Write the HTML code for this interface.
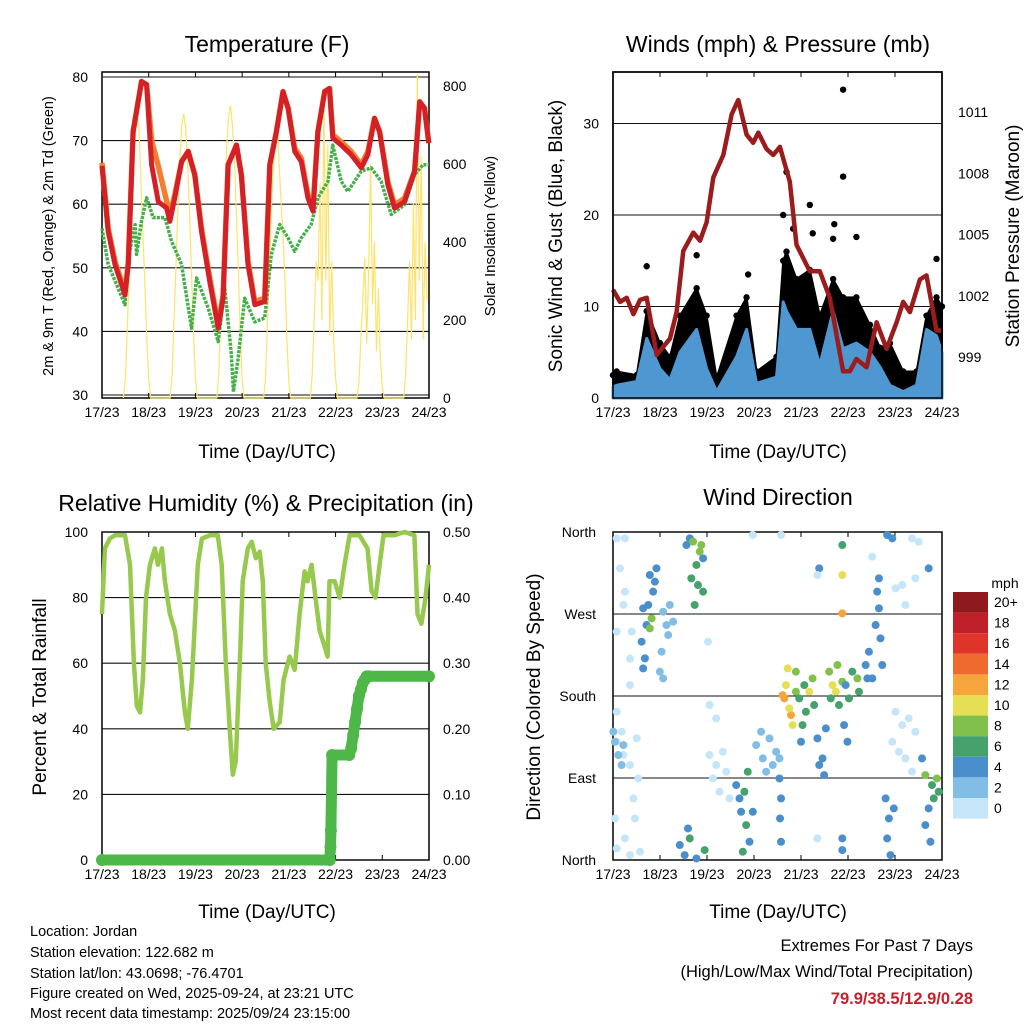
<!DOCTYPE html>
<html><head><meta charset="utf-8"><style>
body{margin:0;background:#fff}
svg{display:block;font-family:"Liberation Sans",sans-serif}
</style></head><body>
<svg id="c" width="1024" height="1024" viewBox="0 0 1024 1024" xmlns="http://www.w3.org/2000/svg">
<rect width="1024" height="1024" fill="#fff"/>
<g font-size="23" text-anchor="middle" fill="#000">
<text x="267" y="52">Temperature (F)</text>
<text x="778" y="52">Winds (mph) &amp; Pressure (mb)</text>
<text x="266" y="511">Relative Humidity (%) &amp; Precipitation (in)</text>
<text x="778" y="505">Wind Direction</text>
</g>
<g font-size="19" text-anchor="middle">
<text x="267" y="458">Time (Day/UTC)</text>
<text x="778" y="458">Time (Day/UTC)</text>
<text x="267" y="918">Time (Day/UTC)</text>
<text x="778" y="918">Time (Day/UTC)</text>
<text transform="translate(53,236) rotate(-90)" font-size="14.5">2m &amp; 9m T (Red, Orange) &amp; 2m Td (Green)</text>
<text transform="translate(495,236) rotate(-90)" font-size="15">Solar Insolation (Yellow)</text>
<text transform="translate(562,236) rotate(-90)">Sonic Wind &amp; Gust (Blue, Black)</text>
<text transform="translate(1019,236) rotate(-90)">Station Pressure (Maroon)</text>
<text transform="translate(46,697) rotate(-90)">Percent &amp; Total Rainfall</text>
<text transform="translate(540,697) rotate(-90)">Direction (Colored By Speed)</text>
</g>
<g font-size="14.5">
<text x="30" y="936">Location: Jordan</text>
<text x="30" y="957">Station elevation: 122.682 m</text>
<text x="30" y="978">Station lat/lon: 43.0698; -76.4701</text>
<text x="30" y="998">Figure created on Wed, 2025-09-24, at 23:21 UTC</text>
<text x="30" y="1018">Most recent data timestamp: 2025/09/24 23:15:00</text>
</g>
<g font-size="16.5" text-anchor="end">
<text x="973" y="951">Extremes For Past 7 Days</text>
<text x="973" y="977">(High/Low/Max Wind/Total Precipitation)</text>
<text x="973" y="1004" font-weight="bold" fill="#c8202a">79.9/38.5/12.9/0.28</text>
</g>
<g id="plots"></g>
</svg>
<script>
// ---------- DATA ----------
const dayLabels = ["17/23","18/23","19/23","20/23","21/23","22/23","23/23","24/23"];
const tempTicks = [30,40,50,60,70,80];
const solarTicks = [0,200,400,600,800];
const windTicks = [0,10,20,30];
const pressTicks = [999,1002,1005,1008,1011];
const rhTicks = [0,20,40,60,80,100];
const rainTicks = ["0.00","0.10","0.20","0.30","0.40","0.50"];
const dirNames = ["North","East","South","West","North"];
const speedLabels = ["20+","18","16","14","12","10","8","6","4","2","0"];

const tempHours = [0,3.2,6.7,11.8,13.5,16,20.3,22.9,25.5,28.9,33.2,34.9,37.4,40.9,44.3,47.7,51.1,55.4,59.7,62.2,64.8,69.1,71.6,75,78.5,83.6,86.2,89.6,93,95.6,99,102.4,105.8,108.4,110.9,114.4,116.9,118.6,122.9,128,133.2,136.6,140,142.6,146.9,150.3,155.4,160.6,163.2,165.7,167.9];
const tempRed = [66,55.7,50.5,45.7,50.5,71.4,79.3,78.8,66.2,60.4,59.4,57.3,61,66.7,68.3,64.6,55.7,47.8,40.5,45.2,66.2,69.3,64.6,50.5,44.2,44.7,66.2,71.4,77.7,75.1,68.3,66.7,61,58.9,71.4,77.7,78.2,70.4,69.3,67.8,65.7,67.8,73.5,71.4,63,59.4,60.4,65.2,76.1,75.1,69.6];
const tempOrange = [66.5,56.2,51,46.2,51,71.4,79.3,78.8,70,66,60.5,58.4,61.5,66.7,68.3,64.6,56.2,48.3,41,45.7,66.2,69.3,64.6,51,44.7,45.2,66.2,71.4,77.7,75.1,68.8,67.2,61.5,59.4,71.4,77.7,78.2,70.9,69.8,68.3,66.2,68.3,73.5,71.4,63.5,59.9,60.9,65.2,76.1,75.1,69.6];
const dewHours = [0,3.2,11.8,13.5,17,17.8,20.3,22.9,26.3,32.3,35.7,40.9,46,48.6,54.5,59.7,63.1,66.5,67.5,69.9,73.3,78.5,83.6,87,91.3,95.6,99,102.4,107.5,110.9,116.1,118.6,122.9,126.3,133.2,138.3,143.4,148.6,155.4,160.6,164.8,167.9];
const dewTemps = [56.2,50.5,44.2,51.6,56.8,52.1,57.3,61,57.9,57.9,54.2,50.5,40.5,48.4,43.7,38.4,46.8,36.3,30.5,35.7,45.2,41.5,42.1,52.1,56.8,54.7,52.6,54.7,56.8,61,63.6,69.3,63.6,62,65.2,65.7,63.6,58.4,59.9,64.6,66.2,66.2];
const solarHours = [11,12,13,14,15,16,17,18,19,20,21,22,23,24,25, 35,36,37,38,39,40,41,42,43,44,45,46,47,48,49, 59,60,61,62,63,64,65,66,67,68,69,70,71,72,73, 83,84,85,86,87,88,89,90,91,92,93,94,95,96,97, 107,108,109,110,111,112,113,114,115,116,117,118,119,120,121, 131,132,133,134,135,136,137,138,139,140,141,142,143,144,145, 155,156,157,158,159,160,161,162,163,164,165,166,167];
const solarValues = [0,50,180,330,480,600,690,720,690,560,420,300,150,50,0, 0,60,200,340,490,610,700,730,690,600,470,320,170,50,0, 0,60,210,360,500,640,720,750,700,620,480,330,170,50,0, 0,50,190,340,480,600,650,720,600,500,420,300,150,40,0, 0,60,200,350,300,550,200,760,300,650,160,350,150,50,0, 0,40,150,250,360,140,330,600,240,400,120,280,100,30,0, 0,60,200,350,150,500,200,830,300,620,150,400,250];

const windHours = [0,1.9,12.1,17.2,24,29.1,34.2,42.7,47.8,52.9,63.1,68.2,73.3,83.5,86.9,88.6,93.7,100.5,105.6,112.4,117.5,124.3,131.2,136.3,141.4,148.2,155,160.1,165.2,168];
const windSpeed = [1.2,1.4,1.8,6.5,3.2,2,5,7.5,3.2,0.7,4.5,7.5,1.6,2.3,10.5,9.5,7.5,7.5,3.6,9.5,5.4,6,5,3.4,1.4,0.7,1.4,7.5,6.8,5];
const windGust = [2.5,2.9,2.5,9.5,6,4.5,9,12,9,2.2,9,11,2.9,4.5,15,16,13,14,9,13,11,11,8,5.5,6,2.9,2.9,9,11,10];
const gustPeakHours = [17.2,42.7,69,86.9,88.6,92,100.5,102,112.4,113,117.5,117.5,124.3,165.2];
const gustPeakValues = [14.4,15.6,13.5,20,24.7,18.5,21.1,18,17.4,19,33.7,24.2,17.6,15.2];
const pressHours = [0,3.6,7,10.4,13.8,17.2,22.3,29.1,32.5,35.9,41,44.4,47.8,51.2,56.3,60.6,64,68.2,71.6,74.2,78.4,81.8,85.2,90.3,93.7,100.5,105.6,110.7,117.5,120.9,124.3,129.5,134.6,139.7,144.8,148.2,151.6,156.7,160.1,165.2,167.7];
const pressValues = [1002.3,1001.7,1001.9,1001.1,1001.8,1001.9,999.1,999.9,1001.2,1004.2,1005.1,1004.7,1005.6,1007.8,1008.9,1010.9,1011.6,1009.9,1009.5,1010,1009.2,1008.9,1009.3,1007.6,1004.5,1003.2,1003.2,1001.9,998.3,998.3,998.9,998.5,1000.7,999.4,1000.7,1001.7,1001.2,1002.8,1003,1000.3,1000.3];

const rhHours = [0,1.5,4,6.7,11.8,14.4,16.4,17.9,19.5,21,22.6,24.6,27.2,28.7,30.8,32.3,34.9,37.4,40,42.6,44.1,46.2,49.2,51.3,55.4,59.5,61.5,63.6,65.6,67.2,68.7,70.8,72.3,74.9,76.9,79,81,82.6,84.1,86.2,88.2,91.3,93.3,96.4,99,101.5,104.1,105.6,107.7,109.7,111.8,114.4,115.9,116.9,119.5,122.1,124.6,127.2,132.3,136.4,138.5,140.5,142.6,144.6,150.3,155.4,160.5,162.1,164.1,166.2,168];
const rhValues = [75,95,98,99,99,90,60,47,45,55,80,90,95,90,95,85,75,70,60,45,40,55,90,98,99,99,90,60,40,26,30,60,85,95,97,92,94,85,60,48,40,42,55,62,58,75,88,85,90,80,70,65,62,85,85,80,90,99,99,95,82,80,90,99,99,100,99,75,72,80,90];
const rainHours = [0,117,117.4,117.6,118.2,127,128,129,130,131,132,133,134,135,136,137,168];
const rainValues = [0,0,0.02,0.045,0.16,0.16,0.17,0.19,0.21,0.23,0.25,0.26,0.27,0.275,0.28,0.28,0.28];

const dirHours = [1.9,6.1,3.6,6.1,5.3,1.9,9.5,8.7,8.7,1.9,4.4,1.9,5.3,8.7,12.1,12.9,10.4,1,11.2,6.1,1.9,8.7,13.8,
 1,2.7,4.4,5.3,0.2,25.6,27.3,29,24.8,28.2,30.7,23.9,25.6,
 15.4,17.1,14.6,16.3,15.4,18.8,20.5,18,21.4,22.2,39.2,46,37.5,34.1,36.6,38.3,42.6,
 19.7,18.8,40.9,44.3,45.1,42.6,40,46,41.7,43.4,39.2,46.8,
 49.3,52.7,56.1,51,54.4,57.8,59.5,49.3,52.7,48.5,73.1,76.5,79.9,83.3,78.2,81.6,85,75.6,
 62.9,64.6,65.4,69.7,71.4,85,85.8,85.3,85.8,67.1,68,66.3,68.8,
 86.6,87.5,90.9,117.1,88.3,90,91.7,89.2,100.2,112.1,113.8,117.1,93.4,93.4,101.9,110.4,114.6,117.1,124.8,
 95.1,96.8,98.5,97.7,102.7,115.4,111.2,117.1,120.5,125.6,122.2,
 96,104.4,107,107.8,105.3,108.7,118.8,118,119.7,105.3,129,130.7,132.4,134.1,135.8,134.9,136.6,137.5,129.9,135.8,139.2,140.9,140,141.7,143.4,140,142.6,157.8,161.2,159.5,162.1,161.2,117.1,117.1,
 159.5,162.9,165.4,163.8,166.3,
 144.3,147.7,151,154.4,146,149.3,152.7,142.6,71.4,85.8,104.4,104.4,132.4,144.3,147.7,154.4,156.1,152.7,149.3];
const dirDegrees = [353,353,320,294.5,280,250.6,250.6,221,192,162.7,140.8,129.8,115.2,104.2,133.5,89.5,67.6,45.6,45.6,23.7,12.7,5.4,9.1,
 129.8,115.2,104.2,126.1,140.8,272.5,257.9,279.9,228.6,246.9,261.6,206.7,199.3,
 276.2,257.9,239.6,221.3,210.3,312.8,294.5,279.9,305.5,320.1,353,331.1,345.7,16.4,5.4,34.6,1.7,
 265.2,254.2,349.4,338.4,345.7,323.8,309.1,294.5,279.9,301.8,23.7,10.9,
 115.2,104.2,118.8,89.5,74.9,96.9,67.6,170.1,155.4,239.6,126.1,111.5,133.5,118.8,96.9,104.2,111.5,140.8,
 82.2,67.6,52.9,20,52.9,89.5,67.6,45.6,20,74.9,38.3,9.1,96.9,
 181,177.4,159.1,270.7,192,166.4,148.1,210.3,184.7,192,184.7,312.8,206.7,184.7,199.3,206.7,214,195.7,199.3,
 177.4,148.1,162.7,192,170.1,170.1,177.4,345.7,177.4,184.7,206.7,
 129.8,133.5,111.5,93.2,104.2,144.4,192,148.1,129.8,320.1,214,228.6,199.3,257.9,276.2,294.5,243.3,214,199.3,309.1,67.6,45.6,23.7,5.4,56.6,356.7,353,111.5,56.6,38.3,20,320.1,23.7,10.9,
 93.2,82.2,89.5,67.6,74.9,
 162.7,148.1,155.4,140.8,118.8,111.5,96.9,129.8,356.7,356.7,312.8,23.7,332.9,298.2,301.8,309.1,349.4,353,279.9];
const dirSpeeds = [0.5,0.5,0.5,0.5,0.5,0.5,0.5,0.5,0.5,0.5,0.5,0.5,0.5,0.5,0.5,0.5,0.5,0.5,0.5,0.5,0.5,0.5,0.5,
 2.5,2.5,2.5,2.5,2.5,2.5,2.5,2.5,2.5,2.5,2.5,2.5,2.5,
 4.5,4.5,4.5,4.5,4.5,4.5,4.5,4.5,4.5,4.5,4.5,4.5,4.5,4.5,4.5,4.5,4.5,
 8.5,8.5,8.5,8.5,8.5,6.5,6.5,6.5,6.5,6.5,6.5,6.5,
 0.5,0.5,0.5,0.5,0.5,0.5,0.5,0.5,0.5,0.5,2.5,2.5,2.5,2.5,2.5,2.5,2.5,2.5,
 4.5,4.5,4.5,4.5,4.5,4.5,4.5,4.5,4.5,6.5,6.5,6.5,6.5,
 12.5,12.5,12.5,12.5,10.5,10.5,10.5,10.5,10.5,10.5,10.5,10.5,8.5,8.5,8.5,8.5,8.5,8.5,8.5,
 6.5,6.5,6.5,6.5,6.5,6.5,6.5,6.5,6.5,6.5,6.5,
 4.5,4.5,4.5,4.5,4.5,4.5,4.5,4.5,4.5,4.5,4.5,4.5,4.5,4.5,4.5,4.5,4.5,4.5,4.5,4.5,4.5,4.5,4.5,4.5,4.5,4.5,4.5,4.5,4.5,4.5,4.5,4.5,4.5,4.5,
 8.5,6.5,8.5,6.5,6.5,
 0.5,0.5,0.5,0.5,0.5,0.5,0.5,0.5,0.5,0.5,0.5,0.5,0.5,0.5,0.5,0.5,0.5,0.5,0.5];

const speedColors = ["#c4e6f8","#82bde6","#4a8fcb","#45a26c","#80c04b","#e6df55","#f6a53d","#ee6a2e","#de3429","#c0202a","#8e1a1d"];

// ---------- SCALES ----------
const TX = t => 102 + t * 327 / 168;
const TY = v => 395 - (v - 30) * 6.36;
const SY = v => 398 - v * 0.39;
const WX = t => 613 + t * 329 / 168;
const WY = v => 398 - v * 9.15;
const PY = p => 357 - (p - 999) * 20.4;
const RY = v => 860 - v * 3.28;
const PRY = v => 860 - v * 656;
const DY = d => 860 - d * 328 / 360;

const NS = "http://www.w3.org/2000/svg";
const root = document.getElementById("plots");
function mk(tag, attrs, parent) {
  const e = document.createElementNS(NS, tag);
  for (const k in attrs) e.setAttribute(k, attrs[k]);
  (parent || root).appendChild(e);
  return e;
}
function pts(xs, ys, fx, fy) { return xs.map((x, i) => fx(x).toFixed(1) + "," + fy(ys[i]).toFixed(1)).join(" "); }

function frame(x0, y0, x1, y1, name, fx) {
  const g = mk("g", {});
  
  
  const r = mk("rect", {x: x0, y: y0, width: x1 - x0, height: y1 - y0, fill: "none", stroke: "#000", "stroke-width": 1.5}, g);
  
  
  dayLabels.forEach((lab, i) => {
    const x = fx(i * 24);
    mk("line", {x1: x, x2: x, y1: y1, y2: y1 - 5, stroke: "#000"}, g);
    mk("line", {x1: x, x2: x, y1: y0, y2: y0 + 5, stroke: "#000"}, g);
    const t = mk("text", {x: x, y: y1 + 19, "font-size": 14, "text-anchor": "middle"}, g);
    t.textContent = lab;
    
    
  });
  return g;
}
function grid(g, x0, x1, y, name) {
  const l = mk("line", {x1: x0, x2: x1, y1: y, y2: y, stroke: "#111", "stroke-width": 1.1}, g);
  
  
}
function tickLabel(g, x, y, txt, anchor, name) {
  const t = mk("text", {x: x, y: y + 5, "font-size": 14, "text-anchor": anchor}, g);
  t.textContent = txt;
  
  
}

// ---------- TEMPERATURE ----------
const g1 = frame(102, 72, 429, 398, "temperature-panel", TX);
tempTicks.forEach(v => { grid(g1, 102, 429, TY(v), "temp"); tickLabel(g1, 88, TY(v), String(v), "end", "temp-tick-label"); });
solarTicks.forEach(v => tickLabel(g1, 443, SY(v), String(v), "start", "solar-tick-label"));
const sol = mk("polyline", {points: pts(solarHours, solarValues, TX, SY), fill: "none", stroke: "#fde36a", "stroke-width": 1.2});


const dew = mk("polyline", {points: pts(dewHours, dewTemps, TX, TY), fill: "none", stroke: "#45b04a", "stroke-width": 3.5, "stroke-dasharray": "3 1.2", "stroke-linejoin": "round"});


const or = mk("polyline", {points: pts(tempHours, tempOrange, TX, TY), fill: "none", stroke: "#f47d30", "stroke-width": 5.5, "stroke-linejoin": "round"});


const rd = mk("polyline", {points: pts(tempHours, tempRed, TX, TY), fill: "none", stroke: "#d42027", "stroke-width": 5, "stroke-linejoin": "round"});



// ---------- WINDS ----------
const g2 = frame(613, 72, 942, 398, "winds-panel", WX);
windTicks.forEach(v => { grid(g2, 613, 942, WY(v), "wind"); tickLabel(g2, 599, WY(v), String(v), "end", "wind-tick-label"); });
pressTicks.forEach(v => tickLabel(g2, 958, PY(v), String(v), "start", "pressure-tick-label"));
const gustArea = mk("polygon", {points: WX(0) + "," + WY(0) + " " + pts(windHours, windGust, WX, WY) + " " + WX(168) + "," + WY(0), fill: "#000", "stroke": "#000", "stroke-width": 2, "stroke-linejoin": "round"});


windHours.forEach((t, i) => {
  const c = mk("circle", {cx: WX(t), cy: WY(windGust[i]), r: 3.2, fill: "#000"});
  
  
});
gustPeakHours.forEach((t, i) => {
  const c = mk("circle", {cx: WX(t), cy: WY(gustPeakValues[i]), r: 3.2, fill: "#000"});
  
  
});
const spdArea = mk("polygon", {points: WX(0) + "," + WY(0) + " " + pts(windHours, windSpeed, WX, WY) + " " + WX(168) + "," + WY(0), fill: "#4f97d1", stroke: "#4f97d1", "stroke-width": 3, "stroke-linejoin": "round"});


const pr = mk("polyline", {points: pts(pressHours, pressValues, WX, PY), fill: "none", stroke: "#9b1c1c", "stroke-width": 4.5, "stroke-linejoin": "round"});


mk("rect", {x: 613, y: 72, width: 329, height: 326, fill: "none", stroke: "#000", "stroke-width": 1.5});

// ---------- HUMIDITY ----------
const g3 = frame(102, 532, 429, 860, "humidity-panel", TX);
rhTicks.forEach((v, i) => { grid(g3, 102, 429, RY(v), "rh"); tickLabel(g3, 88, RY(v), String(v), "end", "rh-tick-label"); tickLabel(g3, 443, RY(v), rainTicks[i], "start", "rain-tick-label"); });
const rh = mk("polyline", {points: pts(rhHours, rhValues, TX, RY), fill: "none", stroke: "#97c94f", "stroke-width": 4.5, "stroke-linejoin": "round"});


const rain = mk("polyline", {points: pts(rainHours, rainValues, TX, PRY), fill: "none", stroke: "#4db848", "stroke-width": 11, "stroke-linejoin": "round", "stroke-linecap": "round"});


rainHours.forEach((t, i) => {
  const c = mk("circle", {cx: TX(t), cy: PRY(rainValues[i]), r: 6, fill: "#4db848"});
  
  
});

// ---------- WIND DIRECTION ----------
const g4 = frame(613, 532, 942, 860, "wind-direction-panel", WX);
dirNames.forEach((n, i) => { const y = DY(i * 90); grid(g4, 613, 942, y, "dir"); tickLabel(g4, 596, y, n, "end", "direction-tick-label"); });
dirHours.forEach((t, i) => {
  const s = dirSpeeds[i];
  const c = mk("circle", {cx: WX(t), cy: DY(dirDegrees[i]), r: 4, fill: speedColors[Math.min(10, Math.floor(s / 2))]});
  
  
});
// colorbar
const cb = mk("g", {});


const cbt = mk("text", {x: 1005, y: 588, "font-size": 14, "text-anchor": "middle"}, cb);
cbt.textContent = "mph";


speedLabels.forEach((lab, i) => {
  const y = 592 + i * 20.6;
  const r = mk("rect", {x: 953, y: y, width: 35, height: 20.6, fill: speedColors[10 - i]}, cb);
  
  
  const t = mk("text", {x: 994, y: y + 15, "font-size": 14}, cb);
  t.textContent = lab;
  
  
});
</script>
</body></html>
